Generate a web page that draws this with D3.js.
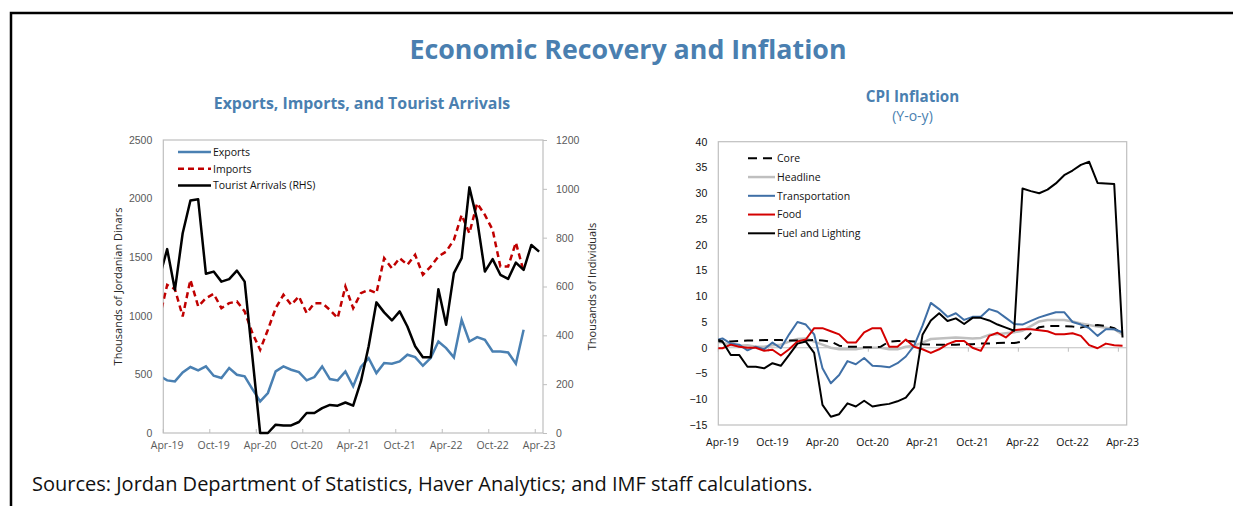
<!DOCTYPE html>
<html>
<head>
<meta charset="utf-8">
<script src="https://cdn.jsdelivr.net/npm/d3@7"></script>
<style>
  body { margin: 0; background: #fff; }
  svg { display: block; font-family: "Open Sans", "Noto Sans", sans-serif; }
</style>
</head>
<body>
<div id="chart"></div>
<script>
// months: index 0 = Apr-19, index -1 = Mar-19 (only its line stub shows, clipped at the axis)
const monthLabels = ['Apr-19','Oct-19','Apr-20','Oct-20','Apr-21','Oct-21','Apr-22','Oct-22','Apr-23'];
const labelIdx = [0, 6, 12, 18, 24, 30, 36, 42, 48];

// left panel, thousands of JD (from Mar-19 to Feb-23)
const exportsJD = [489, 449, 440, 517, 563, 534, 568, 489, 469, 554, 497, 483, 375, 270, 341, 526,
  568, 540, 520, 449, 477, 568, 460, 449, 526, 398, 563, 639, 511, 597, 591, 611, 668, 648, 574,
  639, 781, 724, 645, 966, 781, 818, 795, 696, 696, 687, 591, 881];
const importsJD = [980, 1264, 1227, 995, 1307, 1080, 1150, 1188, 1065, 1108, 1122, 1037, 852, 710,
  881, 1065, 1179, 1094, 1165, 1023, 1108, 1108, 1051, 980, 1250, 1065, 1193, 1222, 1193, 1492,
  1406, 1492, 1435, 1520, 1350, 1420, 1506, 1548, 1648, 1861, 1705, 1960, 1861, 1733, 1420, 1420,
  1625, 1378];
// thousands of individuals (RHS), Mar-19 to Apr-23
const tourists = [637, 753, 586, 818, 952, 957, 652, 661, 620, 630, 665, 620, 311, 0, 0, 34, 31, 31,
  45, 82, 82, 102, 115, 112, 125, 112, 211, 355, 535, 494, 461, 498, 436, 355, 310, 310, 589, 443,
  655, 716, 1006, 873, 661, 712, 648, 631, 698, 668, 770, 743];

// right panel, y-o-y percent, Mar-19 to Apr-23
const core = [1.3, 1.2, 1.2, 1.3, 1.4, 1.4, 1.5, 1.5, 1.5, 1.4, 1.4, 1.4, 1.5, 1.4, 1.2, 0.4, 0.2,
  0.2, 0.1, 0.1, 0.2, 1.2, 1.3, 1.3, 1.2, 0.7, 0.6, 0.6, 0.6, 0.6, 0.7, 0.7, 0.8, 0.8, 0.9, 1.0,
  0.9, 1.2, 2.8, 4.0, 4.2, 4.2, 4.2, 4.1, 3.9, 4.3, 4.4, 4.2, 3.8, 2.6];
const headline = [1.2, 1.0, 0.5, 0.4, 0.5, 0.2, 0.2, 0.5, 0.6, 1.2, 1.7, 1.8, 1.2, 0.6, 0.0, -0.3,
  -0.3, -0.3, 0.0, 0.0, 0.0, -0.3, -0.3, 0.2, 0.4, 1.0, 1.7, 1.8, 1.9, 2.0, 1.9, 1.8, 1.9, 2.5,
  2.6, 2.8, 3.0, 3.3, 4.2, 5.1, 5.4, 5.4, 5.4, 5.1, 4.7, 4.4, 4.1, 3.9, 3.6, 2.6];
const transport = [1.4, 1.8, 0.8, 0.6, -0.5, 0.2, -0.3, 1.0, -0.1, 2.6, 5.0, 4.5, 2.6, -4.0, -6.9,
  -5.3, -2.6, -3.2, -2.0, -3.5, -3.6, -3.8, -3.0, -1.7, 0.4, 4.3, 8.7, 7.5, 6.0, 6.7, 5.4, 6.0,
  6.0, 7.5, 7.0, 5.8, 4.6, 4.5, 5.2, 5.9, 6.4, 6.9, 6.9, 5.0, 4.5, 3.8, 2.3, 3.6, 3.6, 3.0];
const food = [-0.1, -0.1, 0.6, 0.2, 0.0, 0.0, -0.6, -0.4, -1.5, -0.3, 1.2, 1.6, 3.8, 3.8, 3.2, 2.6,
  1.0, 1.0, 3.0, 3.8, 3.8, 0.2, 0.2, 1.6, 0.2, -0.3, -1.0, -0.3, 0.7, 1.3, 1.3, 0.0, -0.6, 2.3,
  2.9, 2.0, 3.4, 3.6, 3.6, 3.4, 3.2, 2.6, 2.6, 2.8, 2.3, 0.5, -0.1, 0.8, 0.5, 0.4];
const fuel = [1.8, 1.2, -1.4, -1.4, -3.7, -3.7, -4.0, -3.0, -3.5, -1.4, 0.8, 1.2, -1.0, -11.1, -13.4,
  -12.9, -10.8, -11.4, -10.3, -11.4, -11.1, -10.9, -10.4, -9.7, -7.7, 2.5, 5.3, 6.7, 5.2, 5.7, 4.6,
  5.8, 5.8, 5.3, 4.5, 3.9, 3.3, 30.9, 30.4, 30.0, 30.7, 31.9, 33.5, 34.4, 35.5, 36.1, 32.0, 31.9,
  31.8, 2.0];

const width = 1233, height = 506;
const blueTitle = '#4a7fb0';
const tickGrey = '#595959';
const boxGrey = '#bfbfbf';

const svg = d3.select('#chart').append('svg')
    .attr('width', width).attr('height', height);

// frame
svg.append('path')
    .attr('d', `M11,${height} V13 H${width}`)
    .attr('fill', 'none').attr('stroke', '#000').attr('stroke-width', 2.5);

svg.append('text')
    .attr('x', 628).attr('y', 59)
    .attr('text-anchor', 'middle')
    .attr('font-size', 26.8).attr('font-weight', 700)
    .attr('fill', blueTitle)
    .text('Economic Recovery and Inflation');

svg.append('text')
    .attr('x', 32).attr('y', 491)
    .attr('font-size', 20).attr('fill', '#111')
    .text('Sources: Jordan Department of Statistics, Haver Analytics; and IMF staff calculations.');

// turn a series starting at Mar-19 (index -1) into points
const toPoints = (arr) => arr.map((v, i) => ({i: i - 1, v: v}));

function drawXAxis(g, x, yBase, labelY, tickDir){
    // tick marks sit on month boundaries, labels on month centres
    g.selectAll('.xtick')
        .data(labelIdx)
        .join('line')
        .attr('class', 'xtick')
        .attr('x1', d => x(d - 0.5)).attr('x2', d => x(d - 0.5))
        .attr('y1', yBase).attr('y2', yBase + tickDir)
        .attr('stroke', boxGrey).attr('stroke-width', 1);
    g.selectAll('.xlab')
        .data(labelIdx)
        .join('text')
        .attr('class', 'xlab')
        .attr('x', d => x(d)).attr('y', labelY)
        .attr('text-anchor', 'middle')
        .attr('font-size', 10.5).attr('fill', tickGrey)
        .text((d, k) => monthLabels[k]);
}

function drawLegend(g, items, x0, x1, y0, step){
    items.forEach((it, k) => {
        const y = y0 + k * step;
        g.append('line')
            .attr('x1', x0).attr('x2', x1).attr('y1', y).attr('y2', y)
            .attr('stroke', it.color).attr('stroke-width', it.width)
            .attr('stroke-dasharray', it.dash || null);
        g.append('text')
            .attr('x', x1 + 2).attr('y', y + 3.8)
            .attr('font-size', 10.5).attr('fill', '#111')
            .text(it.name);
    });
}

// ---------- left panel ----------
const L = {x0: 163.3, x1: 543, top: 140, bot: 433};
const left = svg.append('g').attr('class', 'left-panel');

left.append('text')
    .attr('x', 362).attr('y', 109)
    .attr('text-anchor', 'middle')
    .attr('font-size', 15.9).attr('font-weight', 700)
    .attr('fill', blueTitle)
    .text('Exports, Imports, and Tourist Arrivals');

const xL = d3.scaleLinear().domain([-0.5, 48.5]).range([L.x0, L.x1]);
const yL = d3.scaleLinear().domain([0, 2500]).range([L.bot, L.top]);
const yR = d3.scaleLinear().domain([0, 1200]).range([L.bot, L.top]);

left.append('rect')
    .attr('x', L.x0).attr('y', L.top)
    .attr('width', L.x1 - L.x0).attr('height', L.bot - L.top)
    .attr('fill', 'none').attr('stroke', boxGrey).attr('stroke-width', 1.2);

left.append('g')
    .attr('transform', `translate(${L.x0 - 6},0)`)
    .call(d3.axisLeft(yL).tickValues(d3.range(0, 2501, 500)).tickFormat(d3.format('d')).tickSize(0).tickPadding(5))
    .call(g => g.select('.domain').remove())
    .call(g => g.selectAll('text').attr('font-size', 10.5).attr('fill', tickGrey).attr('font-family', null));

left.append('g')
    .attr('transform', `translate(${L.x1},0)`)
    .call(d3.axisRight(yR).tickValues(d3.range(0, 1201, 200)).tickFormat(d3.format('d')).tickSize(4).tickPadding(9))
    .call(g => g.select('.domain').remove())
    .call(g => g.selectAll('line').attr('stroke', boxGrey))
    .call(g => g.selectAll('text').attr('font-size', 10.5).attr('fill', tickGrey).attr('font-family', null));

drawXAxis(left, xL, L.bot, 449, -4);

left.append('text')
    .attr('transform', `translate(122,${(L.top + L.bot) / 2}) rotate(-90)`)
    .attr('text-anchor', 'middle')
    .attr('font-size', 11).attr('fill', '#262626')
    .text('Thousands of Jordanian Dinars');

left.append('text')
    .attr('transform', `translate(596,${(L.top + L.bot) / 2}) rotate(-90)`)
    .attr('text-anchor', 'middle')
    .attr('font-size', 11).attr('fill', '#262626')
    .text('Thousands of Individuals');

left.append('clipPath').attr('id', 'clip-left')
    .append('rect')
    .attr('x', L.x0).attr('y', L.top - 10)
    .attr('width', L.x1 - L.x0).attr('height', L.bot - L.top + 20);

const plotL = left.append('g').attr('clip-path', 'url(#clip-left)');
const lineL = d3.line().x(d => xL(d.i)).y(d => yL(d.v));
const lineR = d3.line().x(d => xL(d.i)).y(d => yR(d.v));

plotL.append('path')
    .datum(toPoints(importsJD))
    .attr('d', lineL)
    .attr('fill', 'none').attr('stroke', '#c00000').attr('stroke-width', 2.5)
    .attr('stroke-dasharray', '6,4');
plotL.append('path')
    .datum(toPoints(exportsJD))
    .attr('d', lineL)
    .attr('fill', 'none').attr('stroke', '#4a80b2').attr('stroke-width', 2.5);
plotL.append('path')
    .datum(toPoints(tourists))
    .attr('d', lineR)
    .attr('fill', 'none').attr('stroke', '#000').attr('stroke-width', 2.5)
    .attr('stroke-linejoin', 'round');

drawLegend(left, [
    {name: 'Exports', color: '#4a80b2', width: 2.5},
    {name: 'Imports', color: '#c00000', width: 2.5, dash: '6,4'},
    {name: 'Tourist Arrivals (RHS)', color: '#000', width: 2.5}
], 178, 211, 152, 16.8);

// ---------- right panel ----------
const R = {x0: 718.3, x1: 1126.7, top: 141.7, bot: 425};
const right = svg.append('g').attr('class', 'right-panel');

right.append('text')
    .attr('x', 912.5).attr('y', 102)
    .attr('text-anchor', 'middle')
    .attr('font-size', 15.2).attr('font-weight', 700)
    .attr('fill', blueTitle)
    .text('CPI Inflation');
right.append('text')
    .attr('x', 912.5).attr('y', 121)
    .attr('text-anchor', 'middle')
    .attr('font-size', 14).attr('fill', blueTitle)
    .text('(Y-o-y)');

const xC = d3.scaleLinear().domain([-0.5, 48.5]).range([R.x0, R.x1]);
const yC = d3.scaleLinear().domain([-15, 40]).range([R.bot, R.top]);

right.append('rect')
    .attr('x', R.x0).attr('y', R.top)
    .attr('width', R.x1 - R.x0).attr('height', R.bot - R.top)
    .attr('fill', 'none').attr('stroke', boxGrey).attr('stroke-width', 1.2);

right.append('g')
    .attr('transform', `translate(${R.x0 - 5},0)`)
    .call(d3.axisLeft(yC).tickValues(d3.range(-15, 41, 5)).tickSize(0).tickPadding(6))
    .call(g => g.select('.domain').remove())
    .call(g => g.selectAll('text').attr('font-size', 10.5).attr('fill', '#111').attr('font-family', null));

right.append('line')
    .attr('x1', R.x0).attr('x2', R.x1)
    .attr('y1', yC(0)).attr('y2', yC(0))
    .attr('stroke', boxGrey).attr('stroke-width', 1.2);

const zeroTicks = right.append('g');
drawXAxis(zeroTicks, xC, yC(0), 446, 4);
zeroTicks.selectAll('.xlab').attr('fill', '#111');

right.append('clipPath').attr('id', 'clip-right')
    .append('rect')
    .attr('x', R.x0).attr('y', R.top - 10)
    .attr('width', R.x1 - R.x0).attr('height', R.bot - R.top + 20);

const plotC = right.append('g').attr('clip-path', 'url(#clip-right)');
const lineC = d3.line().x(d => xC(d.i)).y(d => yC(d.v));

const cpiSeries = [
    {name: 'Core', data: core, color: '#000', width: 2, dash: '9,6'},
    {name: 'Headline', data: headline, color: '#bfbfbf', width: 2.5},
    {name: 'Transportation', data: transport, color: '#3f6fa6', width: 2},
    {name: 'Food', data: food, color: '#d40000', width: 2},
    {name: 'Fuel and Lighting', data: fuel, color: '#000', width: 2}
];

// headline first so the others sit on top of it
[1, 0, 2, 3, 4].forEach(k => {
    const s = cpiSeries[k];
    plotC.append('path')
        .datum(toPoints(s.data))
        .attr('d', lineC)
        .attr('fill', 'none').attr('stroke', s.color).attr('stroke-width', s.width)
        .attr('stroke-dasharray', s.dash || null)
        .attr('stroke-linejoin', 'round');
});

drawLegend(right, cpiSeries, 748, 775, 158.3, 18.75);
</script>
</body>
</html>
